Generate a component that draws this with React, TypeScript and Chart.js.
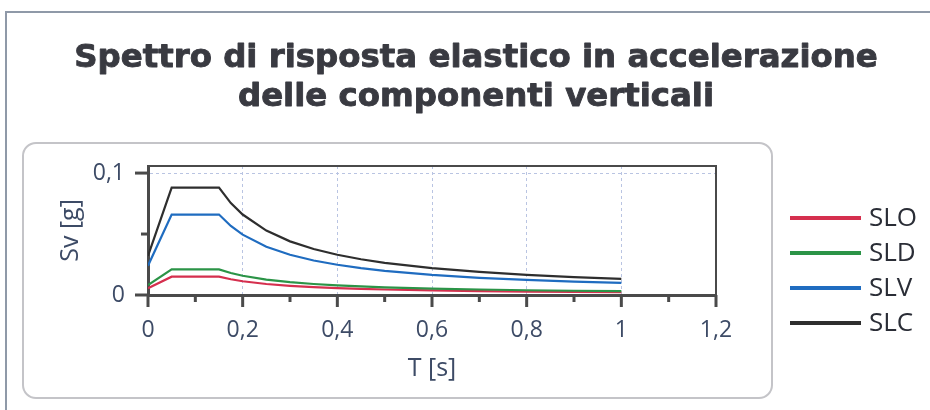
import React, { useEffect, useRef } from 'react';
import { Chart, registerables } from 'chart.js';

Chart.register(...registerables);

// ---- data ----
const periods = [0, 0.05, 0.15, 0.175, 0.2, 0.25, 0.3, 0.35, 0.4, 0.45, 0.5, 0.6, 0.7, 0.8, 0.9, 1.0];
const sloValues = [0.0055, 0.015, 0.015, 0.0129, 0.0113, 0.009, 0.0075, 0.0064, 0.0056, 0.005, 0.0045, 0.0038, 0.0032, 0.0028, 0.0025, 0.0023];
const sldValues = [0.0082, 0.021, 0.021, 0.018, 0.0158, 0.0126, 0.0105, 0.009, 0.0079, 0.007, 0.0063, 0.0053, 0.0045, 0.0039, 0.0035, 0.0032];
const slvValues = [0.024, 0.066, 0.066, 0.0566, 0.0495, 0.0396, 0.033, 0.0283, 0.0248, 0.022, 0.0198, 0.0165, 0.0141, 0.0124, 0.011, 0.0099];
const slcValues = [0.032, 0.088, 0.088, 0.0754, 0.066, 0.0528, 0.044, 0.0377, 0.033, 0.0293, 0.0264, 0.022, 0.0189, 0.0165, 0.0147, 0.0132];

const seriesNames = ['SLO', 'SLD', 'SLV', 'SLC'];
const seriesColors = ['#d52f4e', '#2b9447', '#1f6cc0', '#2e2e2e'];

const xTickValues = [0, 0.1, 0.2, 0.3, 0.4, 0.5, 0.6, 0.7, 0.8, 0.9, 1.0, 1.1, 1.2];
const yTickValues = [0, 0.05, 0.1];
const xMax = 1.2;
const yMax = 0.1058;

const titleLines = ['Spettro di risposta elastico in accelerazione', 'delle componenti verticali'];
const xAxisTitle = 'T [s]';
const yAxisTitle = 'Sv [g]';

const fmt = (v: number) => String(Math.round(v * 10) / 10).replace('.', ',');
const isMajorX = (v: number) => Math.round(v * 10) % 2 === 0;
const isMajorY = (v: number) => Math.round(v * 100) % 10 === 0;

const AXIS_COLOR = '#4a4a4a';
const TICK_COLOR = '#3d4b66';
const GRID_COLOR = '#b9c4e2';
const TITLE_FONT = '"DejaVu Sans"';

const decorPlugin = {
  id: 'decor',
  beforeDraw(chart: any) {
    const ctx = chart.ctx;
    ctx.save();
    ctx.fillStyle = '#ffffff';
    ctx.fillRect(0, 0, chart.width, chart.height);
    // outer frame (top / left)
    ctx.strokeStyle = '#8f99a8';
    ctx.lineWidth = 2;
    ctx.beginPath();
    ctx.moveTo(6, 410);
    ctx.lineTo(6, 12);
    ctx.lineTo(930, 12);
    ctx.stroke();
    // rounded panel
    ctx.strokeStyle = '#c4c4c8';
    ctx.lineWidth = 2;
    ctx.beginPath();
    (ctx as any).roundRect(23, 143, 749, 255, 13);
    ctx.stroke();
    // title: fit first line to the reference width
    ctx.font = `bold 32px ${TITLE_FONT}`;
    const w = ctx.measureText(titleLines[0]).width;
    const size = Math.round(((32 * 804) / w) * 10) / 10;
    ctx.font = `bold ${size}px ${TITLE_FONT}`;
    ctx.fillStyle = '#393a41';
    ctx.strokeStyle = '#393a41';
    ctx.lineWidth = 0.9;
    ctx.lineJoin = 'round';
    ctx.textAlign = 'center';
    ctx.textBaseline = 'alphabetic';
    ctx.fillText(titleLines[0], 476, 67);
    ctx.strokeText(titleLines[0], 476, 67);
    ctx.fillText(titleLines[1], 476, 106);
    ctx.strokeText(titleLines[1], 476, 106);
    ctx.restore();
  },
  afterDraw(chart: any) {
    const ctx = chart.ctx;
    const xs = chart.scales.x;
    const ys = chart.scales.y;
    const area = chart.chartArea;
    ctx.save();
    // top & right border of plot box
    ctx.strokeStyle = AXIS_COLOR;
    ctx.lineWidth = 2;
    ctx.beginPath();
    ctx.moveTo(area.left, area.top);
    ctx.lineTo(area.right, area.top);
    ctx.lineTo(area.right, area.bottom);
    ctx.stroke();
    // tick marks
    ctx.lineWidth = 3;
    xTickValues.forEach((v) => {
      const px = xs.getPixelForValue(v);
      const len = isMajorX(v) ? 12 : 7;
      ctx.beginPath();
      ctx.moveTo(px, area.bottom);
      ctx.lineTo(px, area.bottom + len);
      ctx.stroke();
    });
    yTickValues.forEach((v) => {
      const py = ys.getPixelForValue(v);
      const len = isMajorY(v) ? 13 : 7;
      ctx.beginPath();
      ctx.moveTo(area.left, py);
      ctx.lineTo(area.left - len, py);
      ctx.stroke();
    });
    // legend
    ctx.font = '26px "Open Sans"';
    ctx.textAlign = 'left';
    ctx.textBaseline = 'middle';
    seriesNames.forEach((name, i) => {
      const y = 218 + 35 * i;
      ctx.strokeStyle = seriesColors[i];
      ctx.lineWidth = 4;
      ctx.beginPath();
      ctx.moveTo(790, y);
      ctx.lineTo(861, y);
      ctx.stroke();
      ctx.fillStyle = '#2a2d36';
      ctx.fillText(name, 869, y + 1);
    });
    ctx.restore();
  },
};

export default function App() {
  const ref = useRef<HTMLCanvasElement | null>(null);

  useEffect(() => {
    document.body.style.margin = '0';
    const canvas = ref.current;
    if (!canvas) return;
    const allValues = [sloValues, sldValues, slvValues, slcValues];
    const chart = new Chart(canvas, {
      type: 'line',
      data: {
        datasets: seriesNames.map((name, i) => ({
          label: name,
          data: periods.map((t, j) => ({ x: t, y: allValues[i][j] })),
          borderColor: seriesColors[i],
          backgroundColor: seriesColors[i],
          borderWidth: 2.2,
          pointRadius: 0,
          tension: 0,
          fill: false,
          order: 3 - i,
        })),
      },
      options: {
        animation: false,
        responsive: false,
        devicePixelRatio: 1,
        layout: { padding: { left: 30, top: 166, right: 214, bottom: 20 } },
        plugins: {
          legend: { display: false },
          title: { display: false },
          tooltip: { enabled: false },
        },
        scales: {
          x: {
            type: 'linear',
            min: 0,
            max: xMax,
            afterBuildTicks: (s: any) => {
              s.ticks = xTickValues.map((v) => ({ value: v }));
            },
            afterFit: (s: any) => {
              s.height = 95;
            },
            ticks: {
              autoSkip: false,
              maxRotation: 0,
              padding: 22,
              color: TICK_COLOR,
              font: { family: '"Open Sans"', size: 23 },
              callback: (v: any) => (isMajorX(Number(v)) ? fmt(Number(v)) : ''),
            },
            grid: {
              drawTicks: false,
              lineWidth: 1,
              color: (c: any) => {
                const v = c.tick ? c.tick.value : 0;
                return isMajorX(v) && v > 0.01 && v < xMax - 0.01 ? GRID_COLOR : 'rgba(0,0,0,0)';
              },
            },
            border: { display: true, width: 3, color: AXIS_COLOR, dash: [3, 3] },
            title: {
              display: true,
              text: xAxisTitle,
              color: TICK_COLOR,
              font: { family: '"Open Sans"', size: 25 },
              padding: { top: 0, bottom: 6 },
            },
          },
          y: {
            type: 'linear',
            min: 0,
            max: yMax,
            afterBuildTicks: (s: any) => {
              s.ticks = yTickValues.map((v) => ({ value: v }));
            },
            afterFit: (s: any) => {
              s.width = 118;
            },
            ticks: {
              autoSkip: false,
              padding: 23,
              color: TICK_COLOR,
              font: { family: '"Open Sans"', size: 23 },
              callback: (v: any) => (isMajorY(Number(v)) ? fmt(Number(v)) : ''),
            },
            grid: {
              drawTicks: false,
              lineWidth: 1,
              color: (c: any) => {
                const v = c.tick ? c.tick.value : 0;
                return v > 0.09 ? GRID_COLOR : 'rgba(0,0,0,0)';
              },
            },
            border: { display: true, width: 3, color: AXIS_COLOR, dash: [3, 3] },
            title: {
              display: true,
              text: yAxisTitle,
              color: TICK_COLOR,
              font: { family: '"Open Sans"', size: 25 },
              padding: { top: 26, bottom: 0 },
            },
          },
        },
      },
      plugins: [decorPlugin],
    });
    return () => chart.destroy();
  }, []);

  return (
    <div style={{ position: 'absolute', left: 0, top: 0, width: 930, height: 410, background: '#fff' }}>
      <canvas ref={ref} width={930} height={410} style={{ display: 'block', width: 930, height: 410 }} />
    </div>
  );
}
